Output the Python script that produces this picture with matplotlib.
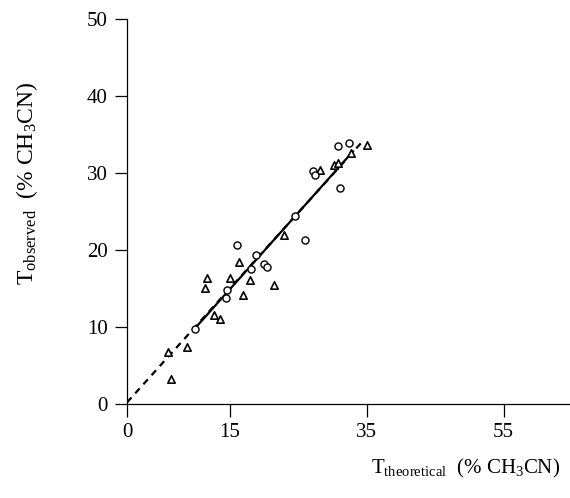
import matplotlib
matplotlib.use('Agg')
import matplotlib.pyplot as plt

plt.rcParams['font.family'] = ['Liberation Serif', 'DejaVu Serif']
plt.rcParams['mathtext.fontset'] = 'custom'
plt.rcParams['mathtext.rm'] = 'Liberation Serif'
plt.rcParams['mathtext.it'] = 'Liberation Serif:italic'

# triangles: theoretical vs observed (% CH3CN)
tri_x = [6.4, 6.0, 8.8, 12.7, 13.6, 11.4, 11.7, 15.0, 16.9, 17.9, 16.4, 21.5,
         23.0, 28.2, 30.2, 30.8, 32.7, 35.0]
tri_y = [3.2, 6.7, 7.4, 11.6, 11.0, 15.0, 16.3, 16.3, 14.2, 16.1, 18.5, 15.5,
         22.0, 30.4, 31.1, 31.3, 32.6, 33.6]

# circles
circ_x = [10.0, 14.5, 14.6, 16.1, 18.1, 18.8, 20.0, 20.4, 24.6, 26.0, 27.1,
          27.4, 30.8, 32.4, 31.1]
circ_y = [9.8, 13.8, 14.8, 20.6, 17.5, 19.4, 18.2, 17.8, 24.4, 21.3, 30.2,
          29.7, 33.5, 33.9, 28.0]

# fitted line (solid) and ideal line through origin (dashed)
fit_x = [10.0, 33.0]
fit_y = [9.9, 32.8]
ideal_x = [0.0, 34.5]
ideal_y = [0.2, 34.2]

xticks = [0, 15, 35, 55]
yticks = [0, 10, 20, 30, 40, 50]

fig = plt.figure(figsize=(5.7, 4.98), dpi=100)
ax = fig.add_axes([0.2228, 0.1888, 0.7772, 0.773])

ax.plot(fit_x, fit_y, color='black', lw=1.6, zorder=2)
ax.plot(ideal_x, ideal_y, color='black', lw=1.6, ls=(0, (3, 2.5)), zorder=2)
ax.scatter(tri_x, tri_y, marker='^', s=28, facecolors='white',
           edgecolors='black', linewidths=1.2, zorder=3)
ax.scatter(circ_x, circ_y, marker='o', s=26, facecolors='white',
           edgecolors='black', linewidths=1.0, zorder=3)

ax.set_xlim(0, 64.7)
ax.set_ylim(0, 50)
ax.set_xticks(xticks)
ax.set_yticks(yticks)
ax.tick_params(direction='out', length=9, width=0.9, labelsize=15, pad=5)
for s in ['top', 'right']:
    ax.spines[s].set_visible(False)
for s in ['left', 'bottom']:
    ax.spines[s].set_linewidth(0.9)

fig.text(0.983, 0.05, r'T$_{\rm theoretical}$  (% CH$_3$CN)', fontsize=15,
         ha='right', va='baseline')
fig.text(0.048, 0.632, r'T$_{\rm observed}$  (% CH$_3$CN)', fontsize=17,
         rotation=90, ha='center', va='center')

fig.savefig('out.png', dpi=100)
